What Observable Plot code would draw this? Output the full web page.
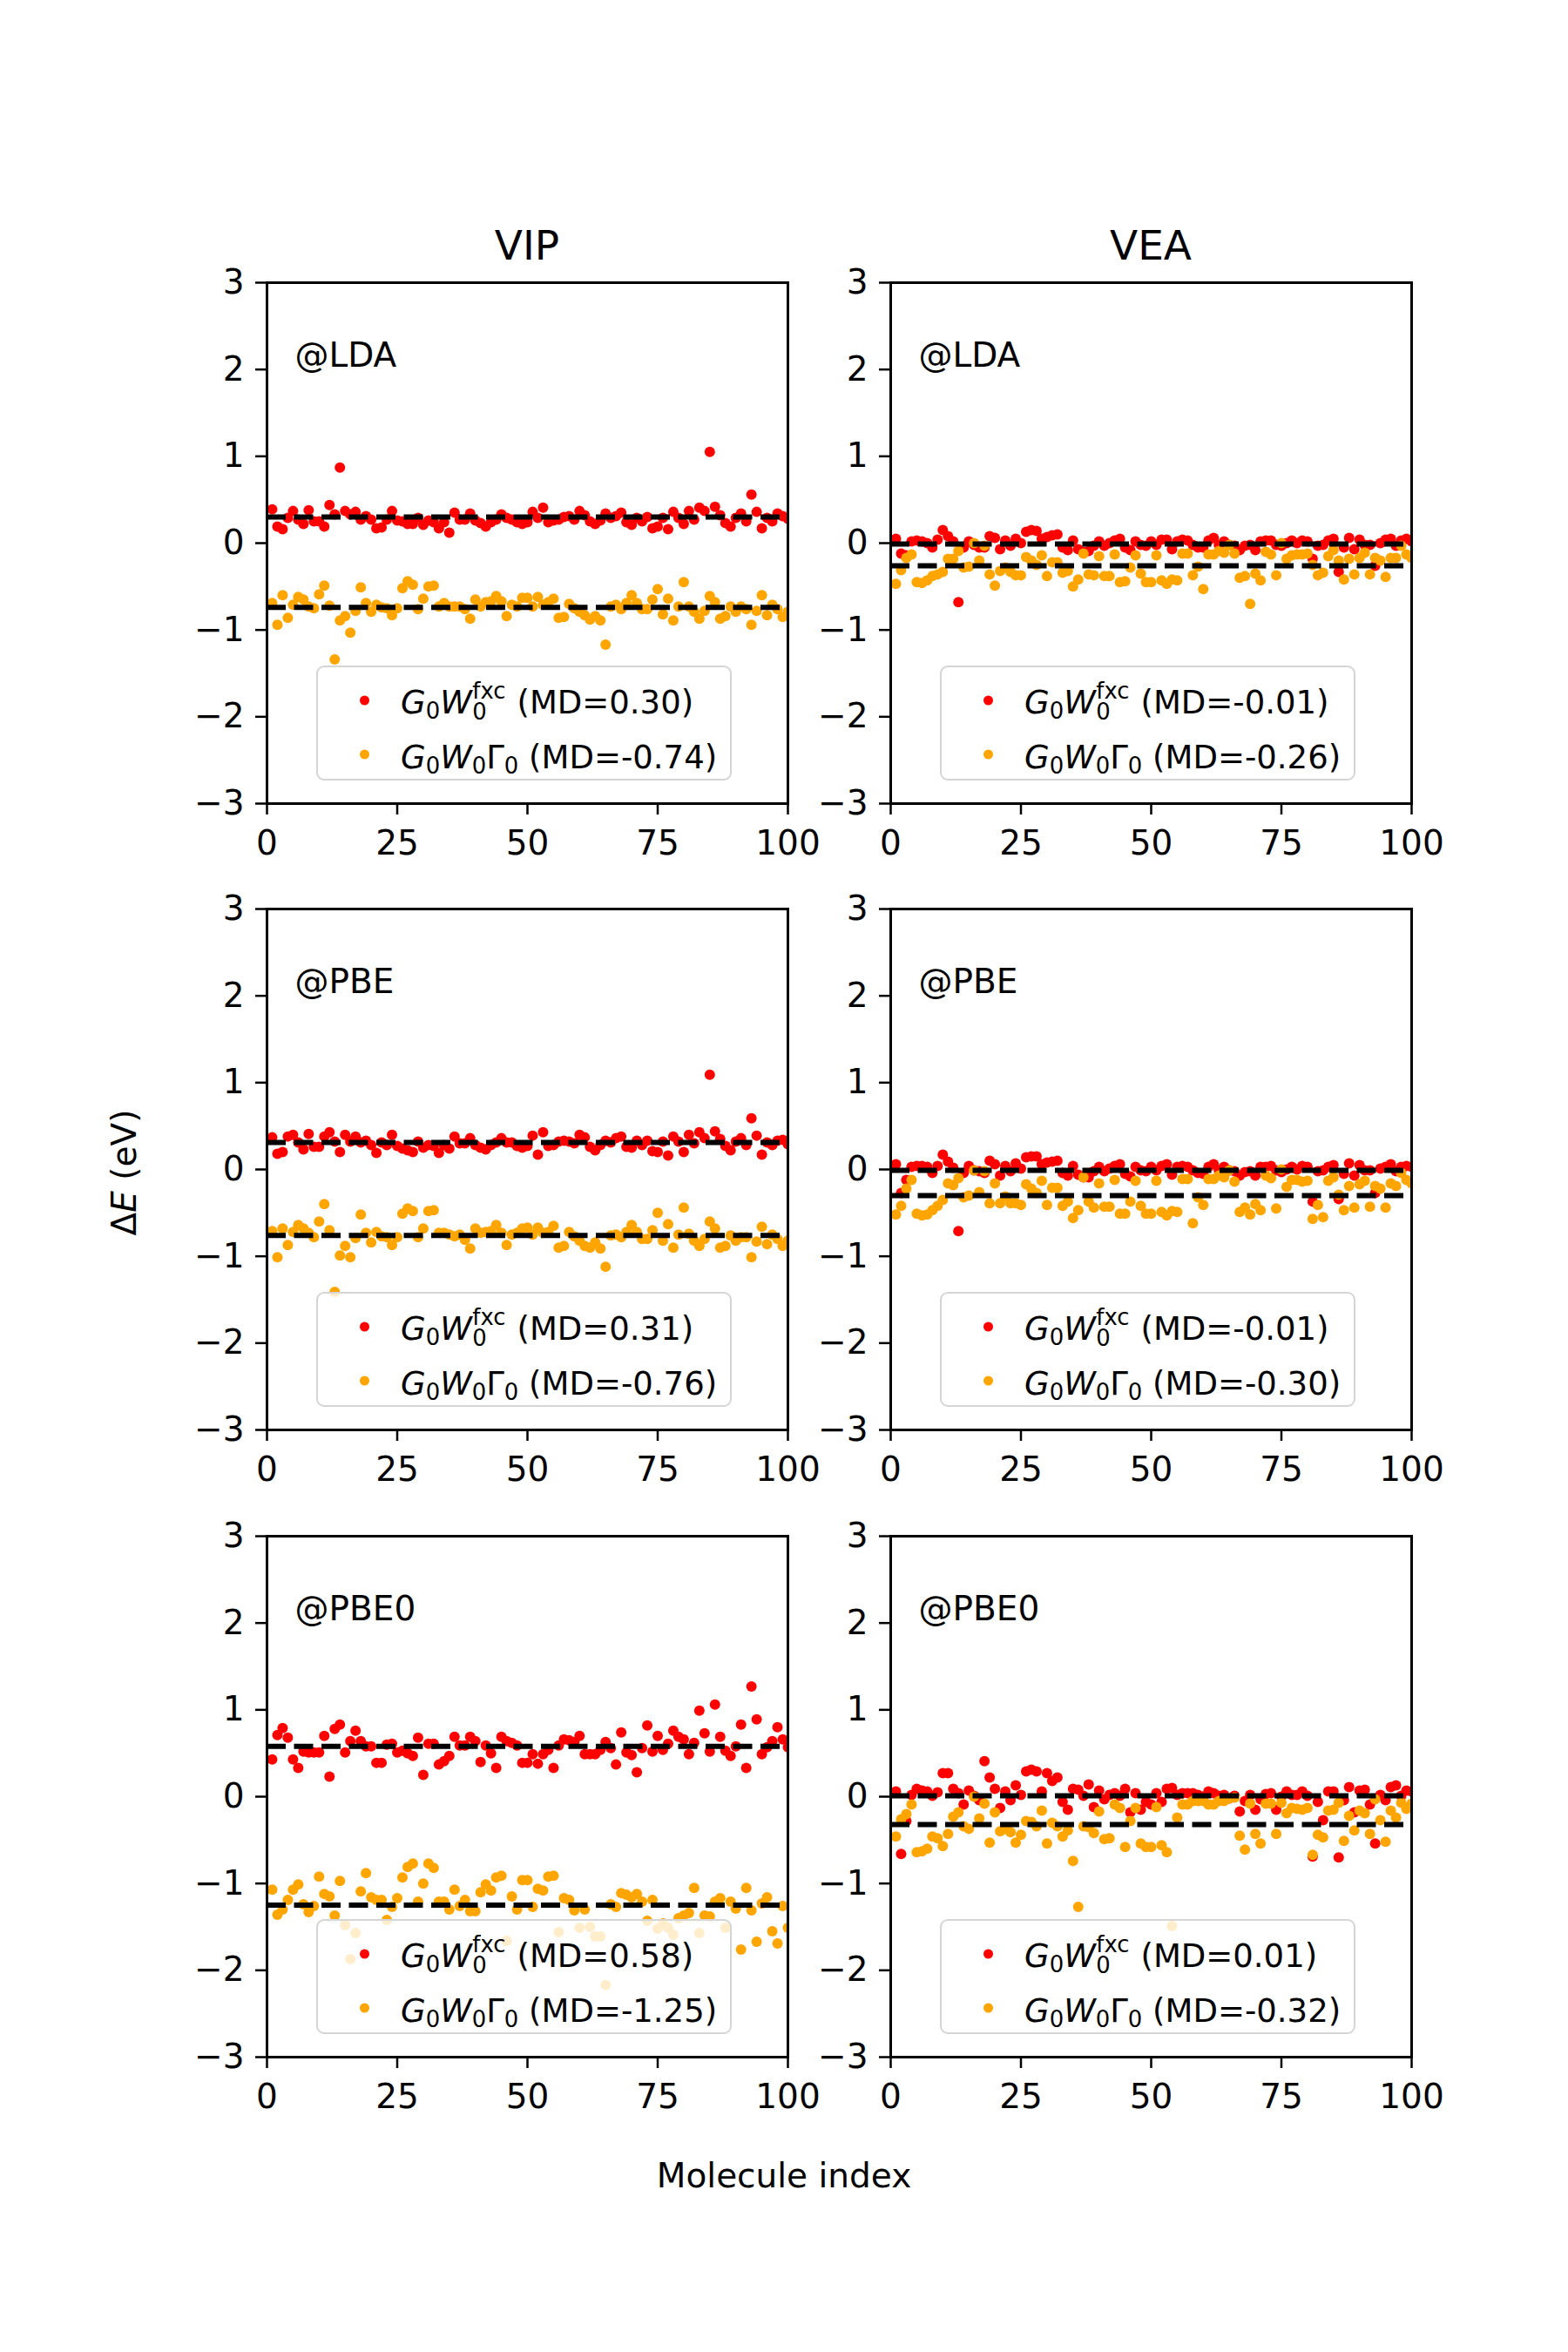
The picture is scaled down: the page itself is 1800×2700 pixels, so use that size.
<!DOCTYPE html>
<html>
<head>
<meta charset="utf-8">
<script src="https://cdn.jsdelivr.net/npm/d3@7"></script>
<script src="https://cdn.jsdelivr.net/npm/@observablehq/plot@0.6"></script>
<style>
  html, body { margin: 0; padding: 0; background: #fff; }
  #fig { position: relative; width: 1800px; height: 2700px; background: #fff; font-family: "DejaVu Sans", sans-serif; color: #000; overflow: hidden; }
  .panel { position: absolute; }
  .panel svg { background: transparent; overflow: visible; }
  .title { position: absolute; font-size: 47px; transform: translate(-50%, -50%); white-space: nowrap; }
  .xlab { position: absolute; font-size: 39px; transform: translate(-50%, -50%); white-space: nowrap; }
  .ylab { position: absolute; font-size: 39px; transform: translate(-50%, -50%) rotate(-90deg); white-space: nowrap; }
  .lg { position: absolute; width: 477px; height: 132px; box-sizing: border-box; border: 2.5px solid #d5d5d5; border-radius: 9px; background: rgba(255,255,255,0.8); }
  .ldot { position: absolute; width: 11px; height: 11px; border-radius: 50%; left: 48px; transform: translateY(-50%); }
  .ltext { position: absolute; left: 95px; font-size: 37px; line-height: 1; white-space: nowrap; transform: translateY(-50%); }
  .it { font-style: italic; }
  .sb { position: relative; top: 0.24em; font-size: 0.7em; }
  .stk { display: inline-block; position: relative; width: 1.08em; height: 0; }
  .stk-sp, .stk-sb { position: absolute; left: 0.02em; font-size: 0.7em; line-height: 0.75; }
  .stk-sp { top: -1.35em; }
  .stk-sb { top: -0.42em; }
</style>
</head>
<body>
<div id="fig"></div>
<script>
// ---------------- data ----------------
const columns = ["VIP", "VEA"];
const functionals = ["LDA", "PBE", "PBE0"];
const xTicks = [0, 25, 50, 75, 100];
const yTicks = [-3, -2, -1, 0, 1, 2, 3];
const molIndex = d3.range(1, 101);

// mean deviations (legend + dashed lines), rows LDA, PBE, PBE0
const vipMdFxc = [0.30, 0.31, 0.58];
const vipMdGW = [-0.74, -0.76, -1.25];
const veaMdFxc = [-0.01, -0.01, 0.01];
const veaMdGW = [-0.26, -0.30, -0.32];
const vipMdFxcLabel = ["0.30", "0.31", "0.58"];
const vipMdGWLabel = ["-0.74", "-0.76", "-1.25"];
const veaMdFxcLabel = ["-0.01", "-0.01", "0.01"];
const veaMdGWLabel = ["-0.26", "-0.30", "-0.32"];

// VIP @LDA
const vipLdaFxc = [
0.39,0.19,0.16,0.29,0.37,0.27,0.22,0.38,0.25,0.25,
0.19,0.44,0.33,0.87,0.37,0.33,0.36,0.27,0.31,0.27,
0.17,0.18,0.27,0.37,0.26,0.25,0.22,0.22,0.29,0.21,
0.26,0.24,0.17,0.24,0.12,0.35,0.27,0.27,0.34,0.26,
0.23,0.19,0.24,0.27,0.33,0.29,0.27,0.24,0.22,0.24,
0.36,0.29,0.41,0.24,0.26,0.27,0.30,0.31,0.27,0.37,
0.32,0.25,0.22,0.26,0.34,0.29,0.31,0.35,0.24,0.21,
0.29,0.25,0.30,0.17,0.19,0.29,0.16,0.36,0.29,0.22,
0.37,0.27,0.41,0.37,1.05,0.42,0.32,0.23,0.19,0.29,
0.34,0.25,0.56,0.36,0.17,0.29,0.25,0.34,0.31,0.28];
const vipLdaGW = [
-0.69,-0.94,-0.60,-0.86,-0.71,-0.62,-0.65,-0.73,-0.75,-0.59,
-0.49,-0.72,-1.34,-0.89,-0.84,-1.03,-0.78,-0.51,-0.69,-0.79,
-0.71,-0.74,-0.75,-0.83,-0.75,-0.52,-0.44,-0.48,-0.76,-0.64,
-0.50,-0.49,-0.73,-0.69,-0.73,-0.73,-0.73,-0.76,-0.87,-0.65,
-0.73,-0.68,-0.67,-0.61,-0.67,-0.84,-0.71,-0.73,-0.63,-0.63,
-0.73,-0.62,-0.71,-0.68,-0.64,-0.86,-0.85,-0.70,-0.75,-0.79,
-0.83,-0.88,-0.84,-0.89,-1.17,-0.73,-0.71,-0.76,-0.69,-0.60,
-0.69,-0.76,-0.76,-0.65,-0.53,-0.82,-0.64,-0.89,-0.73,-0.45,
-0.73,-0.79,-0.87,-0.78,-0.61,-0.68,-0.87,-0.84,-0.73,-0.79,
-0.73,-0.76,-0.94,-0.78,-0.60,-0.83,-0.71,-0.76,-0.85,-0.79];

// VIP @PBE
const vipPbeFxc = [
0.37,0.18,0.20,0.38,0.40,0.31,0.23,0.41,0.26,0.26,
0.38,0.43,0.32,0.20,0.40,0.32,0.38,0.31,0.33,0.28,
0.19,0.31,0.28,0.40,0.27,0.24,0.22,0.20,0.32,0.25,
0.28,0.27,0.19,0.28,0.24,0.38,0.30,0.30,0.36,0.28,
0.25,0.23,0.28,0.31,0.36,0.31,0.31,0.27,0.25,0.27,
0.39,0.17,0.43,0.27,0.28,0.32,0.33,0.32,0.30,0.40,
0.37,0.26,0.22,0.28,0.33,0.31,0.36,0.38,0.26,0.25,
0.33,0.28,0.33,0.21,0.20,0.32,0.16,0.38,0.32,0.20,
0.40,0.30,0.43,0.36,1.09,0.44,0.35,0.27,0.22,0.32,
0.36,0.28,0.59,0.39,0.17,0.31,0.28,0.33,0.34,0.29];
const vipPbeGW = [
-0.71,-1.01,-0.68,-0.87,-0.72,-0.64,-0.68,-0.73,-0.78,-0.60,
-0.40,-0.70,-1.41,-0.99,-0.88,-1.01,-0.79,-0.52,-0.73,-0.84,
-0.72,-0.77,-0.78,-0.87,-0.78,-0.51,-0.45,-0.48,-0.78,-0.68,
-0.48,-0.47,-0.73,-0.73,-0.75,-0.77,-0.75,-0.81,-0.91,-0.68,
-0.73,-0.72,-0.71,-0.64,-0.73,-0.87,-0.75,-0.73,-0.68,-0.67,
-0.75,-0.67,-0.73,-0.72,-0.65,-0.90,-0.88,-0.72,-0.77,-0.82,
-0.88,-0.90,-0.84,-0.91,-1.12,-0.76,-0.75,-0.78,-0.72,-0.64,
-0.72,-0.80,-0.80,-0.70,-0.50,-0.82,-0.63,-0.90,-0.75,-0.44,
-0.74,-0.82,-0.88,-0.80,-0.60,-0.68,-0.90,-0.88,-0.76,-0.82,
-0.78,-0.78,-1.01,-0.83,-0.66,-0.86,-0.75,-0.80,-0.88,-0.82];

// VIP @PBE0
const vipPbe0Fxc = [
0.43,0.71,0.79,0.68,0.43,0.33,0.52,0.51,0.51,0.51,
0.70,0.23,0.78,0.83,0.51,0.64,0.76,0.64,0.58,0.58,
0.39,0.39,0.60,0.61,0.51,0.53,0.50,0.47,0.68,0.25,
0.61,0.61,0.37,0.41,0.47,0.69,0.59,0.59,0.69,0.64,
0.40,0.59,0.50,0.33,0.69,0.64,0.62,0.59,0.39,0.39,
0.49,0.38,0.49,0.54,0.33,0.59,0.66,0.65,0.63,0.70,
0.49,0.49,0.49,0.54,0.63,0.56,0.37,0.74,0.51,0.48,
0.28,0.56,0.82,0.52,0.70,0.54,0.61,0.76,0.69,0.66,
0.49,0.62,0.99,0.73,0.52,1.06,0.69,0.53,0.47,0.58,
0.83,0.33,1.27,0.89,0.49,0.57,0.64,0.80,0.66,0.57];
const vipPbe0GW = [
-1.07,-1.36,-1.30,-1.19,-1.07,-1.01,-1.24,-1.33,-1.26,-0.92,
-1.12,-1.15,-1.37,-0.97,-1.48,-1.87,-1.57,-1.09,-0.88,-1.16,
-1.19,-1.19,-1.42,-1.27,-1.17,-0.93,-0.81,-0.77,-1.21,-1.00,
-0.77,-0.82,-1.21,-1.21,-1.30,-1.07,-1.26,-1.19,-1.32,-1.32,
-1.10,-1.01,-1.08,-0.93,-0.91,-1.66,-1.15,-1.30,-0.96,-0.96,
-1.27,-1.06,-1.08,-0.92,-0.91,-1.56,-1.17,-1.19,-1.31,-1.51,
-1.30,-1.50,-1.61,-1.61,-2.17,-1.24,-1.27,-1.11,-1.13,-1.16,
-1.12,-1.21,-1.43,-1.19,-1.52,-1.46,-1.51,-1.59,-1.40,-1.37,
-1.34,-1.05,-1.57,-1.37,-1.38,-1.21,-1.17,-1.51,-1.21,-1.29,
-1.76,-1.05,-1.31,-1.67,-1.23,-1.16,-1.55,-1.69,-1.26,-1.51];

// VEA @LDA
const veaLdaFxc = [
0.05,-0.12,-0.14,0.02,0.03,0.02,0.00,-0.05,0.04,0.15,
0.08,0.02,-0.68,-0.05,0.02,-0.02,-0.05,-0.05,0.08,0.06,
-0.07,0.03,-0.03,0.05,0.00,0.13,0.15,0.14,0.05,0.07,
0.09,0.10,-0.05,-0.08,0.03,-0.07,-0.10,-0.09,-0.03,0.02,
-0.03,0.00,0.03,0.05,-0.05,-0.08,0.02,-0.02,-0.03,0.02,
-0.02,0.04,0.04,-0.07,0.02,0.04,0.03,-0.02,-0.05,-0.05,
0.03,0.06,-0.02,0.02,-0.02,-0.03,-0.08,-0.03,-0.02,-0.08,
0.02,0.03,0.03,-0.02,-0.03,0.00,0.03,0.00,0.03,0.02,
-0.18,-0.03,-0.02,0.03,0.05,-0.33,-0.05,0.06,-0.07,0.04,
-0.02,-0.02,-0.26,0.00,0.04,0.05,-0.03,0.03,0.05,0.02];
const veaLdaGW = [
-0.47,-0.31,-0.17,-0.13,-0.45,-0.46,-0.43,-0.38,-0.36,-0.33,
-0.18,-0.18,-0.09,-0.28,-0.27,0.00,-0.20,-0.03,-0.36,-0.49,
-0.32,-0.28,-0.33,-0.37,-0.37,-0.16,-0.20,-0.25,-0.14,-0.38,
-0.22,-0.22,-0.34,-0.32,-0.50,-0.42,-0.12,-0.36,-0.37,-0.15,
-0.38,-0.38,-0.13,-0.45,-0.44,-0.28,-0.14,-0.35,-0.45,-0.45,
-0.14,-0.43,-0.47,-0.42,-0.43,-0.12,-0.12,-0.37,-0.27,-0.53,
-0.13,-0.13,-0.09,-0.11,-0.02,-0.12,-0.40,-0.38,-0.70,-0.35,
-0.43,-0.10,-0.13,-0.37,0.00,-0.18,-0.14,-0.13,-0.13,-0.12,
-0.25,-0.37,-0.34,-0.15,-0.08,-0.20,-0.42,-0.18,-0.36,-0.17,
-0.11,-0.36,-0.17,-0.20,-0.39,-0.17,-0.17,-0.03,-0.13,-0.17];

// VEA @PBE
const veaPbeFxc = [
0.06,-0.27,-0.12,0.03,0.04,0.04,0.03,-0.04,0.04,0.17,
0.09,0.02,-0.71,-0.04,0.04,-0.01,-0.02,-0.04,0.10,0.06,
-0.07,0.04,-0.02,0.07,0.01,0.14,0.15,0.15,0.06,0.08,
0.09,0.10,-0.04,-0.07,0.04,-0.06,-0.09,-0.09,-0.02,0.03,
-0.02,0.01,0.04,0.06,-0.05,-0.08,0.03,-0.01,-0.02,0.03,
-0.01,0.04,0.06,-0.06,0.03,0.04,0.03,-0.01,-0.04,-0.05,
0.03,0.06,-0.01,0.03,-0.01,-0.02,-0.07,-0.03,-0.02,-0.07,
0.03,0.03,0.04,-0.01,-0.03,0.00,0.03,0.00,0.04,0.03,
-0.37,-0.02,-0.01,0.03,0.05,-0.34,-0.05,0.07,-0.07,0.05,
-0.01,-0.01,-0.27,0.01,0.03,0.06,-0.02,0.03,0.04,0.03];
const veaPbeGW = [
-0.52,-0.42,-0.22,-0.12,-0.51,-0.53,-0.52,-0.47,-0.42,-0.35,
-0.16,-0.18,-0.10,-0.32,-0.30,-0.01,-0.26,-0.02,-0.39,-0.16,
-0.39,-0.31,-0.39,-0.39,-0.41,-0.17,-0.22,-0.27,-0.13,-0.41,
-0.21,-0.21,-0.42,-0.37,-0.56,-0.47,-0.09,-0.37,-0.44,-0.16,
-0.43,-0.43,-0.12,-0.51,-0.51,-0.37,-0.13,-0.42,-0.51,-0.51,
-0.13,-0.49,-0.53,-0.48,-0.49,-0.11,-0.11,-0.62,-0.32,-0.41,
-0.11,-0.11,-0.07,-0.09,-0.01,-0.14,-0.49,-0.44,-0.52,-0.40,
-0.47,-0.07,-0.10,-0.45,0.00,-0.20,-0.12,-0.12,-0.14,-0.13,
-0.57,-0.41,-0.55,-0.13,-0.09,-0.29,-0.47,-0.19,-0.44,-0.17,
-0.13,-0.43,-0.19,-0.22,-0.44,-0.16,-0.19,-0.04,-0.12,-0.16];

// VEA @PBE0
const veaPbe0Fxc = [
0.06,-0.66,-0.28,0.02,0.09,0.07,0.06,0.01,0.05,0.27,
0.27,0.09,0.04,-0.09,0.07,0.01,-0.04,0.41,0.22,0.09,
-0.13,0.06,-0.04,0.13,0.02,0.29,0.31,0.29,0.06,0.27,
0.18,0.22,-0.06,-0.15,0.09,0.08,0.01,0.14,-0.12,0.07,
-0.03,0.02,0.04,0.01,0.09,-0.18,0.04,-0.15,-0.06,-0.09,
0.04,-0.06,0.09,0.10,0.02,0.04,0.04,0.04,0.02,0.00,
0.06,0.04,0.01,0.02,-0.02,0.01,-0.17,-0.05,0.02,-0.15,
-0.03,0.03,0.04,-0.15,0.00,0.06,0.02,0.02,0.06,0.01,
-0.69,-0.06,-0.27,0.06,0.06,-0.70,-0.04,0.11,-0.18,0.07,
0.08,-0.09,-0.54,0.02,-0.04,0.11,0.13,0.01,0.07,0.06];
const veaPbe0GW = [
-0.46,-0.26,-0.20,-0.09,-0.64,-0.63,-0.60,-0.46,-0.48,-0.57,
-0.43,-0.23,-0.18,-0.34,-0.37,0.00,-0.25,-0.08,-0.53,-0.18,
-0.40,-0.37,-0.41,-0.53,-0.44,-0.28,-0.29,-0.34,-0.16,-0.54,
-0.30,-0.34,-0.46,-0.39,-0.74,-1.27,-0.34,-0.35,-0.42,-0.17,
-0.49,-0.48,-0.09,-0.13,-0.58,-0.28,-0.13,-0.54,-0.58,-0.58,
-0.12,-0.56,-0.64,-1.49,-0.24,-0.09,-0.09,-0.05,-0.05,-0.05,
-0.09,-0.09,-0.05,-0.05,-0.02,-0.01,-0.45,-0.61,-0.08,-0.43,
-0.54,-0.08,-0.08,-0.43,-0.07,-0.19,-0.13,-0.14,-0.15,-0.13,
-0.67,-0.44,-0.47,-0.16,-0.15,-0.07,-0.51,-0.22,-0.39,-0.16,
-0.19,-0.43,-0.03,-0.27,-0.52,-0.16,-0.24,-0.07,-0.14,-0.08];

const fxcSeries = { VIP: [vipLdaFxc, vipPbeFxc, vipPbe0Fxc], VEA: [veaLdaFxc, veaPbeFxc, veaPbe0Fxc] };
const gwSeries  = { VIP: [vipLdaGW, vipPbeGW, vipPbe0GW],   VEA: [veaLdaGW, veaPbeGW, veaPbe0GW] };
const mdFxc = { VIP: vipMdFxc, VEA: veaMdFxc };
const mdGW  = { VIP: vipMdGW,  VEA: veaMdGW };
const mdFxcLabel = { VIP: vipMdFxcLabel, VEA: veaMdFxcLabel };
const mdGWLabel  = { VIP: vipMdGWLabel,  VEA: veaMdGWLabel };

// ---------------- layout ----------------
const AX = 598;                 // axes size (px)
const colLeft = [306, 1022];
const rowTop = [324, 1043, 1763];
const ML = 130, MR = 60, MT = 20, MB = 90;
const fmtY = d => (d < 0 ? "\u2212" + Math.abs(d) : String(d));

const fig = document.getElementById("fig");

function addDiv(cls, html, left, top) {
  const d = document.createElement("div");
  d.className = cls;
  d.innerHTML = html;
  d.style.left = left + "px";
  d.style.top = top + "px";
  fig.appendChild(d);
  return d;
}

columns.forEach((col, c) => {
  functionals.forEach((fn, r) => {
    const red = molIndex.map((m, i) => ({ m, v: fxcSeries[col][r][i] }));
    const orange = molIndex.map((m, i) => ({ m, v: gwSeries[col][r][i] }));
    const chart = Plot.plot({
      width: ML + AX + MR,
      height: MT + AX + MB,
      marginLeft: ML, marginRight: MR, marginTop: MT, marginBottom: MB,
      x: { domain: [0, 100] },
      y: { domain: [-3, 3] },
      style: { fontFamily: '"DejaVu Sans", sans-serif', fontSize: "39px", color: "black", background: "transparent", overflow: "visible" },
      marks: [
        Plot.dot(red, { x: "m", y: "v", r: 6, fill: "red", clip: true }),
        Plot.dot(orange, { x: "m", y: "v", r: 6, fill: "orange", clip: true }),
        Plot.ruleY([mdFxc[col][r], mdGW[col][r]], { stroke: "black", strokeWidth: 6, strokeDasharray: "22,9.5", clip: true }),
        Plot.axisX({ ticks: xTicks, tickSize: 13, tickPadding: 18, strokeWidth: 2.5, label: null, fontSize: 39, tickFormat: d => String(d) }),
        Plot.axisY({ ticks: yTicks, tickSize: 13, tickPadding: 13, strokeWidth: 2.5, label: null, fontSize: 39, tickFormat: fmtY }),
        Plot.frame({ stroke: "black", strokeWidth: 3 }),
        Plot.text(["@" + fn], { frameAnchor: "top-left", dx: 32, dy: 84, lineAnchor: "middle", textAnchor: "start", fontSize: 39, fill: "black" })
      ]
    });
    const holder = document.createElement("div");
    holder.className = "panel";
    holder.style.left = (colLeft[c] - ML) + "px";
    holder.style.top = (rowTop[r] - MT) + "px";
    holder.style.width = (ML + AX + MR) + "px";
    holder.appendChild(chart);
    fig.appendChild(holder);

    // legend
    const lg = document.createElement("div");
    lg.className = "lg";
    lg.style.left = (colLeft[c] + 57) + "px";
    lg.style.top = (rowTop[r] + AX - 26 - 132) + "px";
    lg.innerHTML =
      '<span class="ldot" style="top:38px;background:red"></span>' +
      '<div class="ltext" style="top:40px"><span class="it">G</span><span class="sb">0</span><span class="it">W</span>' +
      '<span class="stk"><span class="stk-sp">fxc</span><span class="stk-sb">0</span></span> (MD=' + mdFxcLabel[col][r] + ')</div>' +
      '<span class="ldot" style="top:100px;background:orange"></span>' +
      '<div class="ltext" style="top:103px"><span class="it">G</span><span class="sb">0</span><span class="it">W</span><span class="sb">0</span>' +
      'Γ<span class="sb">0</span> (MD=' + mdGWLabel[col][r] + ')</div>';
    fig.appendChild(lg);
  });
  addDiv("title", col, colLeft[c] + AX / 2, 281);
});

addDiv("xlab", "Molecule index", 900, 2497);
addDiv("ylab", 'Δ<span class="it">E</span> (eV)', 142, 1346);
</script>
</body>
</html>
